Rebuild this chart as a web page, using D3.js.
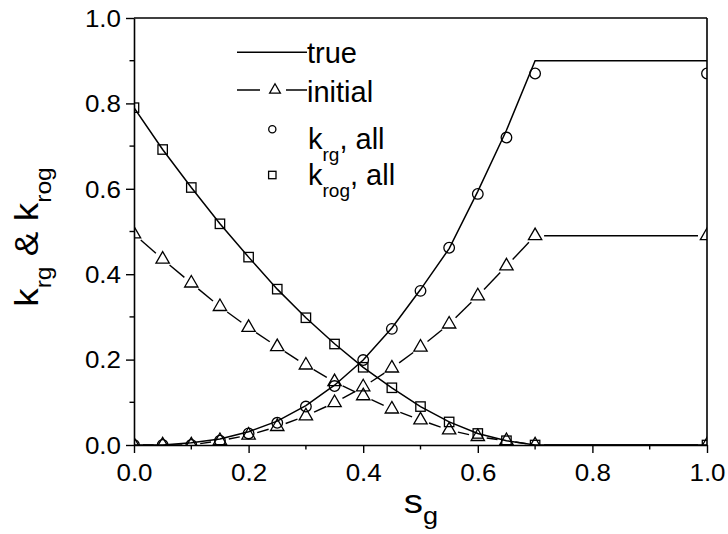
<!DOCTYPE html>
<html>
<head>
<meta charset="utf-8">
<script src="https://cdn.jsdelivr.net/npm/d3@7"></script>
<style>
  html, body { margin: 0; padding: 0; background: #fff; }
  svg { display: block; }
  text { font-family: "Liberation Sans", Arial, sans-serif; fill: #000; }
</style>
</head>
<body>
<svg id="chart" width="728" height="534"></svg>
<script>
// Gas saturation sample points
const sg = [0, 0.05, 0.10, 0.15, 0.20, 0.25, 0.30, 0.35, 0.40, 0.45, 0.50, 0.55, 0.60, 0.65, 0.70, 1.00];

// True relative permeability curves
const krgTrue  = [0, 0, 0.005, 0.014, 0.031, 0.056, 0.092, 0.140, 0.199, 0.274, 0.364, 0.460, 0.594, 0.737, 0.90, 0.90];
const krogTrue = [0.79, 0.692, 0.603, 0.518, 0.440, 0.365, 0.298, 0.237, 0.182, 0.134, 0.090, 0.054, 0.027, 0.010, 0, 0];

// Initial guess
const krgInit  = [0, 0, 0, 0.010, 0.023, 0.043, 0.068, 0.099, 0.136, 0.180, 0.229, 0.283, 0.349, 0.419, 0.49, 0.49];
const krogInit = [0.494, 0.435, 0.379, 0.324, 0.275, 0.230, 0.187, 0.148, 0.115, 0.084, 0.0585, 0.035, 0.0195, 0.010, 0, 0];

// Estimates using all data
const krgAll  = [0, 0, 0, 0.010, 0.027, 0.052, 0.090, 0.138, 0.199, 0.272, 0.361, 0.462, 0.588, 0.720, 0.87, 0.87];
const krogAll = [0.79, 0.692, 0.603, 0.518, 0.440, 0.365, 0.298, 0.2365, 0.182, 0.134, 0.090, 0.054, 0.027, 0.010, 0, 0];

const majorTicks = [0, 0.2, 0.4, 0.6, 0.8, 1.0];
const minorTicks = [0.1, 0.3, 0.5, 0.7, 0.9];

const svg = d3.select("#chart");
const X0 = 134, X1 = 707, Y0 = 445, Y1 = 18;
const x = d3.scaleLinear().domain([0, 1]).range([X0, X1]);
const y = d3.scaleLinear().domain([0, 1]).range([Y0, Y1]);
const fmt = d3.format(".1f");
const SX = 1.13; // horizontal text stretch

svg.append("defs").append("clipPath").attr("id", "plotclip")
  .append("rect").attr("x", X0).attr("y", Y1).attr("width", X1 - X0).attr("height", Y0 - Y1);

const plot = svg.append("g").attr("clip-path", "url(#plotclip)");

const pts = vals => sg.map((s, i) => [x(s), y(vals[i])]);
const line = d3.line();

// solid "true" curves
[krgTrue, krogTrue].forEach(v => {
  plot.append("path").attr("d", line(pts(v)))
    .attr("fill", "none").attr("stroke", "#000").attr("stroke-width", 1.5);
});

// "initial" curves: segments broken around each symbol
const GAP = 9;
[krgInit, krogInit].forEach(v => {
  const p = pts(v);
  for (let i = 0; i < p.length - 1; i++) {
    const [ax, ay] = p[i], [bx, by] = p[i + 1];
    const L = Math.hypot(bx - ax, by - ay);
    if (L <= 2 * GAP) continue;
    const ux = (bx - ax) / L, uy = (by - ay) / L;
    plot.append("line")
      .attr("x1", ax + ux * GAP).attr("y1", ay + uy * GAP)
      .attr("x2", bx - ux * GAP).attr("y2", by - uy * GAP)
      .attr("stroke", "#000").attr("stroke-width", 1.4);
  }
  plot.selectAll(null).data(p).enter().append("path")
    .attr("d", d3.symbol(d3.symbolTriangle, 77)())
    .attr("transform", d => `translate(${d[0]},${d[1]})`)
    .attr("fill", "none").attr("stroke", "#000").attr("stroke-width", 1.3);
});

// circles: krg, all
plot.selectAll(null).data(pts(krgAll)).enter().append("circle")
  .attr("cx", d => d[0]).attr("cy", d => d[1]).attr("r", 5.3)
  .attr("fill", "none").attr("stroke", "#000").attr("stroke-width", 1.3);

// squares: krog, all
plot.selectAll(null).data(pts(krogAll)).enter().append("rect")
  .attr("x", d => d[0] - 4.7).attr("y", d => d[1] - 4.7)
  .attr("width", 9.4).attr("height", 9.4)
  .attr("fill", "none").attr("stroke", "#000").attr("stroke-width", 1.3);

// axes
const gx = svg.append("g").attr("transform", `translate(0,${Y0})`)
  .call(d3.axisBottom(x).tickValues(majorTicks).tickFormat(fmt).tickSize(8).tickSizeOuter(0));
const gy = svg.append("g").attr("transform", `translate(${X0},0)`)
  .call(d3.axisLeft(y).tickValues(majorTicks).tickFormat(fmt).tickSize(8).tickSizeOuter(0));

[gx, gy].forEach(g => {
  g.select(".domain").attr("stroke", "#000").attr("stroke-width", 1.6);
  g.selectAll(".tick line").attr("stroke", "#000").attr("stroke-width", 1.4);
});

gx.selectAll(".tick text")
  .attr("x", null).attr("y", null).attr("dy", null)
  .attr("text-anchor", "middle")
  .attr("font-size", 23)
  .attr("transform", `translate(0,36) scale(${SX},1)`);

gy.selectAll(".tick text")
  .attr("x", null).attr("y", null).attr("dy", null)
  .attr("text-anchor", "end")
  .attr("font-size", 23)
  .attr("transform", `translate(-13,8.3) scale(${SX},1)`);

// minor ticks
gx.selectAll(".minor").data(minorTicks).enter().append("line")
  .attr("x1", d => x(d)).attr("x2", d => x(d)).attr("y1", 0).attr("y2", 4.5)
  .attr("stroke", "#000").attr("stroke-width", 1.4);
gy.selectAll(".minor").data(minorTicks).enter().append("line")
  .attr("y1", d => y(d)).attr("y2", d => y(d)).attr("x1", 0).attr("x2", -4.5)
  .attr("stroke", "#000").attr("stroke-width", 1.4);

// frame top and right
svg.append("line").attr("x1", X0).attr("x2", X1).attr("y1", Y1).attr("y2", Y1)
  .attr("stroke", "#000").attr("stroke-width", 1.6);
svg.append("line").attr("x1", X1).attr("x2", X1).attr("y1", Y1).attr("y2", Y0)
  .attr("stroke", "#000").attr("stroke-width", 1.6);

// axis titles
const xt = svg.append("text")
  .attr("text-anchor", "middle")
  .attr("transform", `translate(${(X0 + X1) / 2 + 0.5},513) scale(${SX},1)`);
xt.append("tspan").attr("font-size", 34).text("s");
xt.append("tspan").attr("font-size", 24).attr("dy", 11).text("g");

const yt = svg.append("text")
  .attr("text-anchor", "middle")
  .attr("transform", `translate(37.5,237) rotate(-90) scale(1.12,1)`);
yt.append("tspan").attr("font-size", 33).text("k");
yt.append("tspan").attr("font-size", 22).attr("dy", 13).text("rg");
yt.append("tspan").attr("font-size", 33).attr("dy", -13).text(" & k");
yt.append("tspan").attr("font-size", 22).attr("dy", 13).text("rog");

// legend
const lg = svg.append("g");
const LW = 1.5;
lg.append("line").attr("x1", 237).attr("x2", 307).attr("y1", 52.3).attr("y2", 52.3)
  .attr("stroke", "#000").attr("stroke-width", LW);
lg.append("text").attr("x", 307).attr("y", 62.5).attr("font-size", 29).text("true");

lg.append("line").attr("x1", 237).attr("x2", 260).attr("y1", 90).attr("y2", 90)
  .attr("stroke", "#000").attr("stroke-width", LW);
lg.append("line").attr("x1", 286).attr("x2", 307).attr("y1", 90).attr("y2", 90)
  .attr("stroke", "#000").attr("stroke-width", LW);
lg.append("path").attr("d", d3.symbol(d3.symbolTriangle, 50)())
  .attr("transform", "translate(275,90)")
  .attr("fill", "none").attr("stroke", "#000").attr("stroke-width", 1.3);
lg.append("text").attr("x", 307).attr("y", 101.5).attr("font-size", 29).text("initial");

lg.append("circle").attr("cx", 272.3).attr("cy", 129.3).attr("r", 3.6)
  .attr("fill", "none").attr("stroke", "#000").attr("stroke-width", 1.3);
const t3 = lg.append("text").attr("x", 308).attr("y", 148.5);
t3.append("tspan").attr("font-size", 29).text("k");
t3.append("tspan").attr("font-size", 19).attr("dy", 12.4).text("rg");
t3.append("tspan").attr("font-size", 29).attr("dy", -12.4).text(", all");

lg.append("rect").attr("x", 268.6).attr("y", 171.3).attr("width", 7.4).attr("height", 7.4)
  .attr("fill", "none").attr("stroke", "#000").attr("stroke-width", 1.3);
const t4 = lg.append("text").attr("x", 308).attr("y", 185);
t4.append("tspan").attr("font-size", 29).text("k");
t4.append("tspan").attr("font-size", 19).attr("dy", 12.4).text("rog");
t4.append("tspan").attr("font-size", 29).attr("dy", -12.4).text(", all");
</script>
</body>
</html>
